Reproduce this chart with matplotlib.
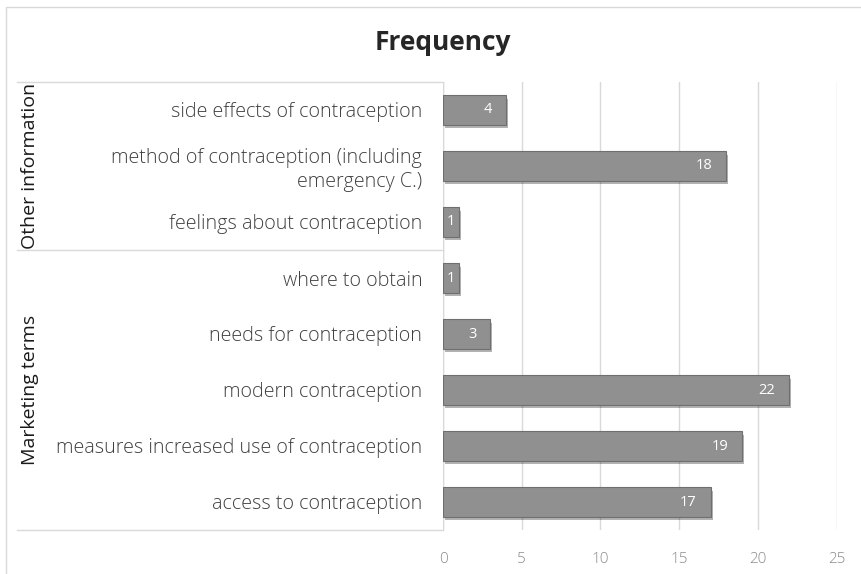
import matplotlib.pyplot as plt
import matplotlib.patheffects as pe
from matplotlib.patches import Rectangle
from matplotlib.lines import Line2D

# top-to-bottom order, as read in the chart
labels = [
    "side effects of contraception",
    "method of contraception (including\nemergency C.)",
    "feelings about contraception",
    "where to obtain",
    "needs for contraception",
    "modern contraception",
    "measures increased use of contraception",
    "access to contraception",
]
counts = [4, 18, 1, 1, 3, 22, 19, 17]
groups = ["Other information", "Marketing terms"]
group_sizes = [3, 5]
xticks = [0, 5, 10, 15, 20, 25]

plt.rcParams['font.family'] = ['Open Sans', 'DejaVu Sans']

W, H = 861, 574
fig = plt.figure(figsize=(W / 100, H / 100), dpi=100)

def fx(px):
    return px / W

def fy(py):
    return 1 - py / H

# outer chart frame
fig.patches.append(Rectangle((fx(6), fy(580)), fx(870), fy(7) - fy(580),
                             transform=fig.transFigure, fill=False,
                             edgecolor='#d9d9d9', lw=1))

left, right, top, bottom = 443, 836.5, 82, 530
ax = fig.add_axes([fx(left), fy(bottom), fx(right - left), fy(top) - fy(bottom)])

n = len(labels)
ypos = list(range(n))
bars = ax.barh(ypos, counts, height=0.52, color='#909090',
               edgecolor='#6f6f6f', linewidth=0.8, zorder=3)
for b in bars:
    b.set_path_effects([pe.SimplePatchShadow(offset=(1.5, -2.5), shadow_rgbFace='black', alpha=0.3),
                        pe.Normal()])

# value labels at the inside end, centred when the bar is too short
for y, v in zip(ypos, counts):
    if v >= 2:
        ax.annotate(str(v), (v, y), xytext=(-10, 0), textcoords='offset points',
                    ha='right', va='center', color='white', fontsize=10.5, zorder=4)
    else:
        ax.text(v / 2, y, str(v), ha='center', va='center', color='white',
                fontsize=10.5, zorder=4)

ax.set_xlim(0, 25)
ax.set_ylim(n - 0.5, -0.5)
ax.set_xticks(xticks)
ax.set_yticks(ypos)
ax.set_yticklabels(labels, fontsize=14.2, color='#404040', ha='right',
                   fontweight='light', linespacing=1.25)
ax.tick_params(axis='y', length=0, pad=15)
ax.tick_params(axis='x', length=0, pad=16, labelsize=11, labelcolor='#8c8c8c')
for lab in ax.get_xticklabels():
    lab.set_fontweight('light')
for s in ax.spines.values():
    s.set_visible(False)
ax.grid(axis='x', color='#d9d9d9', lw=1, zorder=0)
ax.axvline(0, color='#d9d9d9', lw=1, zorder=1)

# group boxes on the left
edges = [top]
acc = 0
for g in group_sizes:
    acc += g
    edges.append(top + (bottom - top) * acc / n)
for e in edges:
    fig.lines.append(Line2D([fx(17), fx(left)], [fy(e), fy(e)], transform=fig.transFigure,
                            color='#d9d9d9', lw=1))
for g, a, b in zip(groups, edges[:-1], edges[1:]):
    fig.text(fx(30), fy((a + b) / 2), g, rotation=90, ha='center', va='center',
             fontsize=14, color='#1a1a1a')

fig.text(fx(443), fy(42), "Frequency", ha='center', va='center',
         fontsize=19, fontweight='bold', color='#262626')

fig.savefig('out.png', dpi=100)
